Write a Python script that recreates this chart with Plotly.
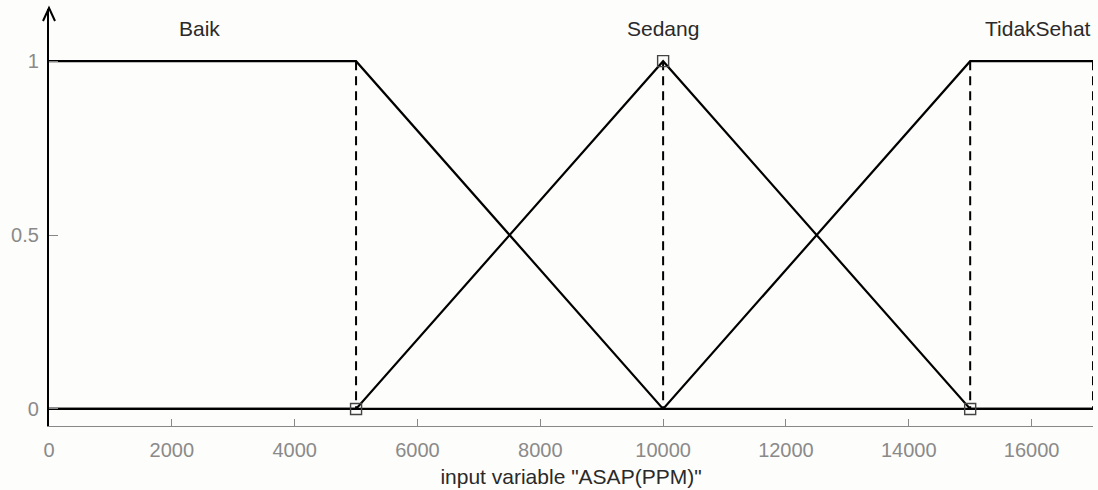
import plotly.graph_objects as go

# Membership functions for input variable "ASAP(PPM)"
x_min, x_max = 0, 17000
mf_names = ["Baik", "Sedang", "TidakSehat"]
baik_x = [0, 5000, 10000, 17000]
baik_y = [1, 1, 0, 0]
sedang_x = [0, 5000, 10000, 15000, 17000]
sedang_y = [0, 0, 1, 0, 0]
tidak_x = [0, 10000, 15000, 17000]
tidak_y = [0, 0, 1, 1]
label_x = [2450, 10000, 16100]

# Breakpoints highlighted with dashed guides and square markers
guide_x = [5000, 10000, 15000, 17000]
marker_x = [5000, 10000, 15000]
marker_y = [0, 1, 0]

x_ticks = [0, 2000, 4000, 6000, 8000, 10000, 12000, 14000, 16000]
y_ticks = [0, 0.5, 1]
y_tick_text = ["0", "0.5", "1"]

FONT = "Liberation Sans, Arial, sans-serif"

fig = go.Figure()

for gx in guide_x:
    fig.add_trace(go.Scatter(x=[gx, gx], y=[1, 0], mode="lines",
                             line=dict(color="black", width=2, dash="9px,6px"),
                             showlegend=False, hoverinfo="skip"))

for xs, ys in [(baik_x, baik_y), (sedang_x, sedang_y), (tidak_x, tidak_y)]:
    fig.add_trace(go.Scatter(x=xs, y=ys, mode="lines",
                             line=dict(color="black", width=2.2),
                             showlegend=False))

fig.add_trace(go.Scatter(x=marker_x, y=marker_y, mode="markers",
                         marker=dict(symbol="square-open", size=11,
                                     color="#444", line=dict(width=1.4)),
                         showlegend=False))

for name, lx in zip(mf_names, label_x):
    fig.add_annotation(x=lx, y=1.095, text=name, showarrow=False,
                       font=dict(family=FONT, size=21, color="#2a2a2a"),
                       xanchor="center", yanchor="middle")

# Open arrowhead on top of the vertical axis
fig.add_shape(type="path", xref="paper", yref="paper",
              xsizemode="pixel", ysizemode="pixel",
              xanchor=0, yanchor=1,
              path="M -6,-12 L 0,1 L 6,-12",
              line=dict(color="black", width=2))

fig.update_layout(
    width=1098, height=490,
    margin=dict(l=49, r=5, t=9, b=64),
    paper_bgcolor="#fdfdfb", plot_bgcolor="#fdfdfb",
    font=dict(family=FONT, size=20, color="#8a8a8a"),
)
fig.update_xaxes(range=[x_min, x_max], tickvals=x_ticks,
                 ticktext=[str(v) for v in x_ticks],
                 ticks="inside", ticklen=7, tickcolor="#888", tickwidth=1,
                 showline=True, linecolor="#888", linewidth=1.2,
                 showgrid=False, zeroline=False,
                 ticklabelstandoff=6,
                 tickfont=dict(family=FONT, size=20, color="#8a8a8a"),
                 title=dict(text='input variable "ASAP(PPM)"', standoff=9,
                            font=dict(family=FONT, size=21, color="#2a2a2a")))
fig.update_yaxes(range=[-0.049, 1.15], tickvals=y_ticks,
                 ticktext=y_tick_text,
                 ticks="inside", ticklen=9, tickcolor="#888", tickwidth=1,
                 showline=True, linecolor="black", linewidth=2.2,
                 showgrid=False, zeroline=False,
                 ticklabelstandoff=4,
                 tickfont=dict(family=FONT, size=20, color="#8a8a8a"))

fig.write_html("out.html")
